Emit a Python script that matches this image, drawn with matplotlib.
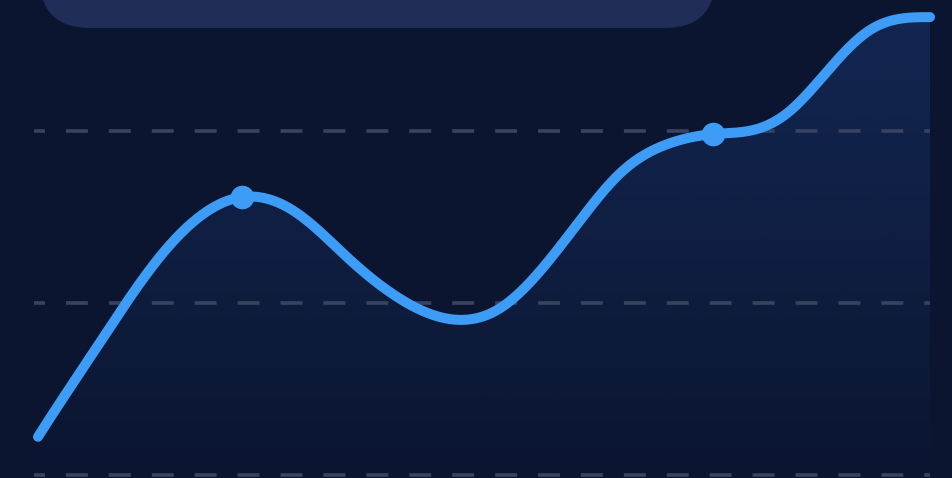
import numpy as np
import matplotlib.pyplot as plt
from matplotlib.patches import FancyBboxPatch, Polygon
from matplotlib.transforms import IdentityTransform

plt.rcParams['lines.scale_dashes'] = False

# series: position along the period (0-100) and value
t = [0, 6.6, 14.0, 22.9, 29.0, 35.0, 40.3, 47.7, 51.5, 60.8, 65.3, 70.9,
     75.7, 80.2, 84.0, 89.9, 93.3, 100]
values = [11.1, 37.2, 64.5, 80.8, 76.2, 62.5, 51.7, 45.1, 48.0, 74.1, 87.8, 96.5,
          99.1, 100.3, 105.2, 121.5, 129.4, 133.1]
highlight = [3, 12]          # indices of the marked points
grid_values = [0, 50, 100]

BG = '#0b1530'
LINE = '#3d9cf5'
GRID = '#39435f'
CARD = '#1f2d58'


def smooth_curve(x, y, d0, d1, n=60):
    # clamped cubic spline through the points
    x = np.asarray(x, float)
    y = np.asarray(y, float)
    k = len(x)
    h = np.diff(x)
    s = np.diff(y) / h
    A = np.zeros((k, k))
    r = np.zeros(k)
    A[0, 0], A[0, 1], r[0] = 2 * h[0], h[0], 6 * (s[0] - d0)
    A[-1, -2], A[-1, -1], r[-1] = h[-1], 2 * h[-1], 6 * (d1 - s[-1])
    for i in range(1, k - 1):
        A[i, i - 1] = h[i - 1]
        A[i, i] = 2 * (h[i - 1] + h[i])
        A[i, i + 1] = h[i]
        r[i] = 6 * (s[i] - s[i - 1])
    M = np.linalg.solve(A, r)
    xs, ys = [], []
    for i in range(k - 1):
        u = np.linspace(x[i], x[i + 1], n, endpoint=(i == k - 2))
        a = (x[i + 1] - u) / h[i]
        b = (u - x[i]) / h[i]
        xs.append(u)
        ys.append(a * y[i] + b * y[i + 1]
                  + ((a**3 - a) * M[i] + (b**3 - b) * M[i + 1]) * h[i]**2 / 6)
    return np.concatenate(xs), np.concatenate(ys)


fig = plt.figure(figsize=(9.53, 4.78), dpi=100, facecolor=BG)
ax = fig.add_axes([0, 0, 1, 1])
ax.set_facecolor(BG)
ax.set_xlim(-4.26, 102.58)
ax.set_ylim(-0.87, 138.08)
ax.axis('off')

cx, cy = smooth_curve(t, values, 4.1, 0.0)

# gradient area under the line
ymin = ax.get_ylim()[0]
grad = np.zeros((256, 1, 4))
grad[:, 0, :3] = np.array([29, 60, 125]) / 255
grad[:, 0, 3] = np.linspace(0.45, 0.0, 256)
im = ax.imshow(grad, extent=[t[0], t[-1], ymin, max(values)], aspect='auto',
               origin='upper', zorder=1)
poly = Polygon(np.column_stack([np.r_[cx, cx[-1], cx[0]], np.r_[cy, ymin, ymin]]),
               closed=True, facecolor='none', edgecolor='none')
ax.add_patch(poly)
im.set_clip_path(poly)

for g in grid_values:
    ax.plot([-0.45, 100], [g, g], color=GRID, lw=2.6,
            linestyle=(7.9, (15.8, 15.1)), zorder=2)

ax.plot(cx, cy, color=LINE, lw=7.2, solid_capstyle='round', zorder=3)
ax.plot([t[i] for i in highlight], [values[i] for i in highlight], 'o',
        color=LINE, markersize=17, markeredgewidth=0, zorder=4)

# card peeking in at the top edge
card = FancyBboxPatch((40, 450), 675, 90, boxstyle='round,pad=0,rounding_size=50',
                      transform=IdentityTransform(), facecolor=CARD, edgecolor='none')
fig.add_artist(card)

fig.savefig('out.png', dpi=100, facecolor=BG)
